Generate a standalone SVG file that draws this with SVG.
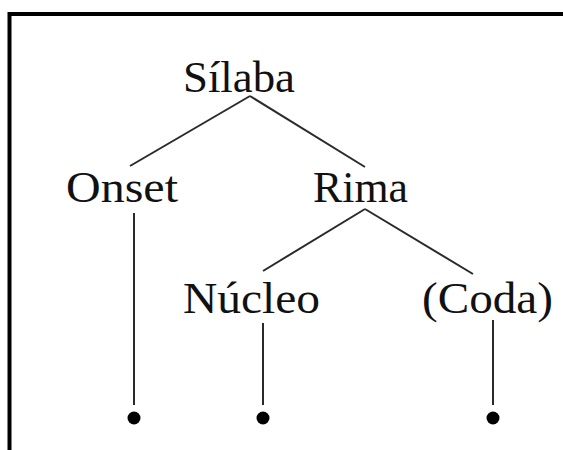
<svg xmlns="http://www.w3.org/2000/svg" width="563" height="450" viewBox="0 0 563 450">
  <style>
    .lbl { font-family: "Liberation Serif", "Times New Roman", serif; font-size: 45px; fill: #111; }
    .edge { stroke: #2a2a2a; stroke-width: 2; fill: none; }
    .dot { fill: #000; }
  </style>
  <rect width="563" height="450" fill="#fff"/>
  <path d="M9.5 460 V14 H570" fill="none" stroke="#000" stroke-width="4"/>
  <g id="connectors">
    <line class="edge" x1="250" y1="96" x2="130" y2="166"/>
    <line class="edge" x1="250" y1="96" x2="365" y2="167"/>
    <line class="edge" x1="365" y1="209" x2="263" y2="271"/>
    <line class="edge" x1="365" y1="209" x2="473" y2="274"/>
    <line class="edge" x1="134" y1="213" x2="134" y2="405"/>
    <line class="edge" x1="263" y1="323" x2="263" y2="405"/>
    <line class="edge" x1="493" y1="320" x2="493" y2="405"/>
  </g>
  <g id="silaba"><text class="lbl" x="183" y="92" textLength="112" lengthAdjust="spacingAndGlyphs">Sílaba</text></g>
  <g id="onset"><text class="lbl" x="66" y="202" textLength="112" lengthAdjust="spacingAndGlyphs">Onset</text></g>
  <g id="rima"><text class="lbl" x="313" y="202" textLength="95" lengthAdjust="spacingAndGlyphs">Rima</text></g>
  <g id="nucleo"><text class="lbl" x="183" y="313" textLength="137" lengthAdjust="spacingAndGlyphs">Núcleo</text></g>
  <g id="coda"><text class="lbl" x="422" y="313" textLength="131" lengthAdjust="spacingAndGlyphs">(Coda)</text></g>
  <g id="dot1"><circle class="dot" cx="134" cy="418" r="6.5"/></g>
  <g id="dot2"><circle class="dot" cx="263" cy="418" r="6.5"/></g>
  <g id="dot3"><circle class="dot" cx="493" cy="418" r="6.5"/></g>
</svg>
